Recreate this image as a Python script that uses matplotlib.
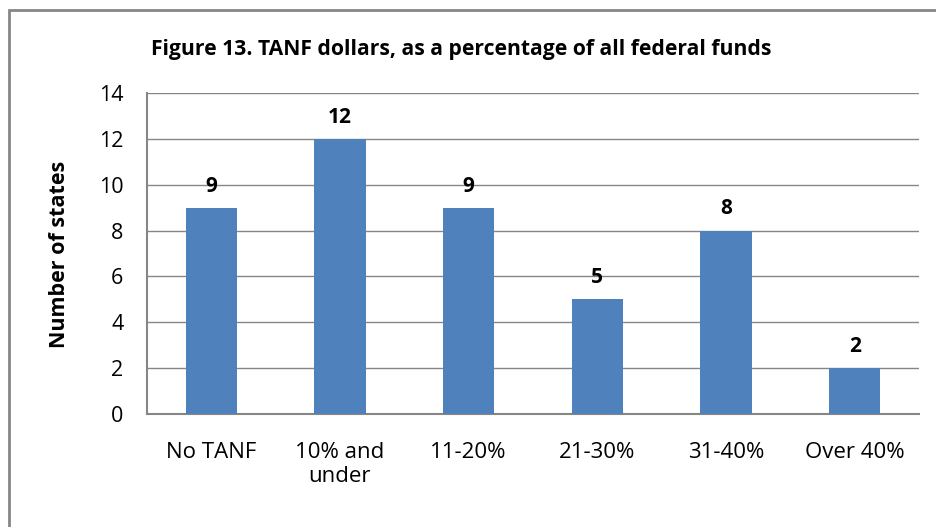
import matplotlib.pyplot as plt
from matplotlib.patches import Rectangle

# Daten
categories = ['No TANF', '10% and\nunder', '11-20%', '21-30%', '31-40%', 'Over 40%']
states = [9, 12, 9, 5, 8, 2]
yticks = [0, 2, 4, 6, 8, 10, 12, 14]

plt.rcParams['font.family'] = ['Open Sans', 'DejaVu Sans']
grey = '#868686'

fig = plt.figure(figsize=(9.37, 5.27), dpi=100)
# Rahmen um das Diagramm
fig.patches.append(Rectangle((9 / 937, -0.05), 1.1, 1 - 10 / 527 + 0.05,
                             transform=fig.transFigure, fill=False,
                             edgecolor=grey, linewidth=2))

ax = fig.add_axes([147 / 937, 1 - 414 / 527, (919 - 147) / 937, (414 - 93) / 527])
x = range(len(categories))
ax.bar(x, states, width=0.4, color='#4F81BD', zorder=3)
for xi, v in zip(x, states):
    ax.annotate(str(v), (xi, v), xytext=(0, 8), textcoords='offset points',
                ha='center', va='bottom', fontsize=15, fontweight='bold')

ax.set_xlim(-0.5, len(categories) - 0.5)
ax.set_ylim(0, 14)
ax.set_yticks(yticks)
ax.set_xticks(list(x))
ax.set_xticklabels(categories, fontsize=16, linespacing=1.2)
ax.tick_params(axis='x', length=0, pad=20)
ax.tick_params(axis='y', length=0, pad=17, labelsize=15.5)
ax.grid(axis='y', color=grey, linewidth=1, zorder=0)
for s in ['top', 'right']:
    ax.spines[s].set_visible(False)
for s in ['left', 'bottom']:
    ax.spines[s].set_color(grey)
    ax.spines[s].set_linewidth(1.5)

fig.text(60 / 937, 1 - 254 / 527, 'Number of states', rotation=90,
         ha='center', va='center', fontsize=15.5, fontweight='bold')
fig.text(461 / 937, 1 - 50 / 527, 'Figure 13. TANF dollars, as a percentage of all federal funds',
         ha='center', va='center', fontsize=15.2, fontweight='bold')

fig.savefig('out.png', dpi=100)
